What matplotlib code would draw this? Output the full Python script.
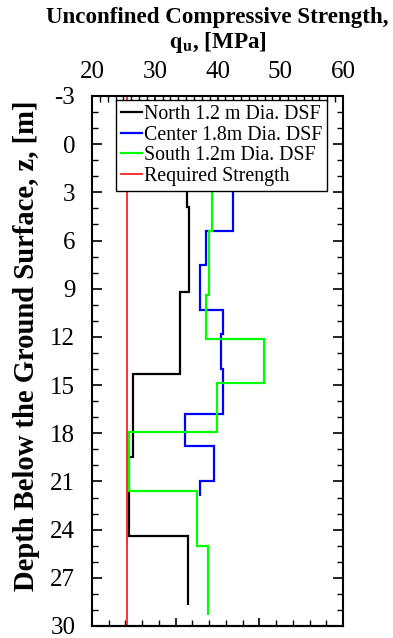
import matplotlib
matplotlib.use("Agg")
import matplotlib.pyplot as plt
from matplotlib.ticker import MultipleLocator, NullFormatter
from matplotlib.lines import Line2D

plt.rcParams['font.family'] = ['Liberation Serif', 'DejaVu Serif']
plt.rcParams['mathtext.fontset'] = 'stix'
plt.rcParams['axes.unicode_minus'] = False

# Data (depth edges in m, strength in MPa)
north_depth = [1.5, 3.9, 9.2, 14.3, 19.5, 24.4, 28.7]
north_qu = [35.1, 35.5, 34.1, 26.6, 25.9, 35.3]

center_depth = [1.5, 5.4, 7.5, 10.3, 11.8, 14.0, 16.8, 18.8, 21.0, 21.9]
center_qu = [42.4, 38.1, 37.2, 40.8, 40.5, 40.8, 34.8, 39.5, 37.2]

south_depth = [1.5, 5.4, 9.4, 12.15, 14.9, 17.95, 21.6, 25.0, 29.3]
south_qu = [39.2, 38.7, 38.1, 47.4, 39.9, 25.9, 36.8, 38.5]

required_qu = 25.5

labels = ["North 1.2 m Dia. DSF", "Center 1.8m Dia. DSF",
          "South 1.2m Dia. DSF", "Required Strength"]
colors = ['black', '#0000ff', '#00ff00', '#ff2020']
x_ticks = [20, 30, 40, 50, 60]
y_ticks = list(range(-3, 31, 3))

fig = plt.figure(figsize=(3.93, 6.38), dpi=100)
ax = fig.add_axes([92/393, 1-626/638, 251/393, 530/638])

ax.stairs(north_qu, north_depth, orientation='horizontal', baseline=None,
          color=colors[0], lw=1.6)
ax.stairs(center_qu, center_depth, orientation='horizontal', baseline=None,
          color=colors[1], lw=1.6)
ax.stairs(south_qu, south_depth, orientation='horizontal', baseline=None,
          color=colors[2], lw=1.6)
ax.axvline(required_qu, color=colors[3], lw=1.3)

ax.set_xlim(20, 60)
ax.set_ylim(30, -3)
ax.set_xticks(x_ticks)
ax.set_yticks(y_ticks)
ax.xaxis.set_minor_locator(MultipleLocator(1.25))
ax.yaxis.set_minor_locator(MultipleLocator(1))
ax.xaxis.tick_top()
ax.xaxis.set_label_position('top')
ax.tick_params(axis='x', which='both', top=True, bottom=False, direction='in',
               labelsize=18, pad=9)
ax.tick_params(axis='y', which='both', left=True, right=True, direction='in',
               labelsize=18, pad=12)
ax.tick_params(which='major', length=7, width=1.2)
ax.tick_params(which='minor', length=4, width=1.0)
for s in ax.spines.values():
    s.set_linewidth(1.5)

ax.set_xlabel("Unconfined Compressive Strength,\n" + r"$\mathbf{q_u}$, [MPa]",
              fontsize=16.6, fontweight='bold', labelpad=10, linespacing=1.1)
ax.set_ylabel("Depth Below the Ground Surface, z, [m]", fontsize=20.6,
              fontweight='bold')
ax.yaxis.set_label_coords(-0.207, 0.528)

# bottom ticks (unlabelled secondary scale)
sec = ax.secondary_xaxis('bottom', functions=(lambda v: (v - 20) * 15 / 40,
                                              lambda v: v * 40 / 15 + 20))
sec.xaxis.set_major_locator(MultipleLocator(5))
sec.xaxis.set_minor_locator(MultipleLocator(1))
sec.xaxis.set_major_formatter(NullFormatter())
sec.tick_params(axis='x', which='both', direction='in')
sec.tick_params(which='major', length=6, width=1.2)
sec.tick_params(which='minor', length=4, width=1.0)
sec.spines['bottom'].set_linewidth(1.5)

handles = [Line2D([], [], color=c, lw=1.6 if c != '#ff2020' else 1.3)
           for c in colors]
leg = ax.legend(handles, labels, loc='upper left',
                bbox_to_anchor=(23.7/251, 1 - 4/530), fontsize=14.3,
                frameon=True, fancybox=False, framealpha=1, edgecolor='black',
                handlelength=1.05, handletextpad=0.1, borderpad=0.25,
                labelspacing=0.08, borderaxespad=0)
leg.get_frame().set_linewidth(1.0)

fig.savefig("out.png", dpi=100)
